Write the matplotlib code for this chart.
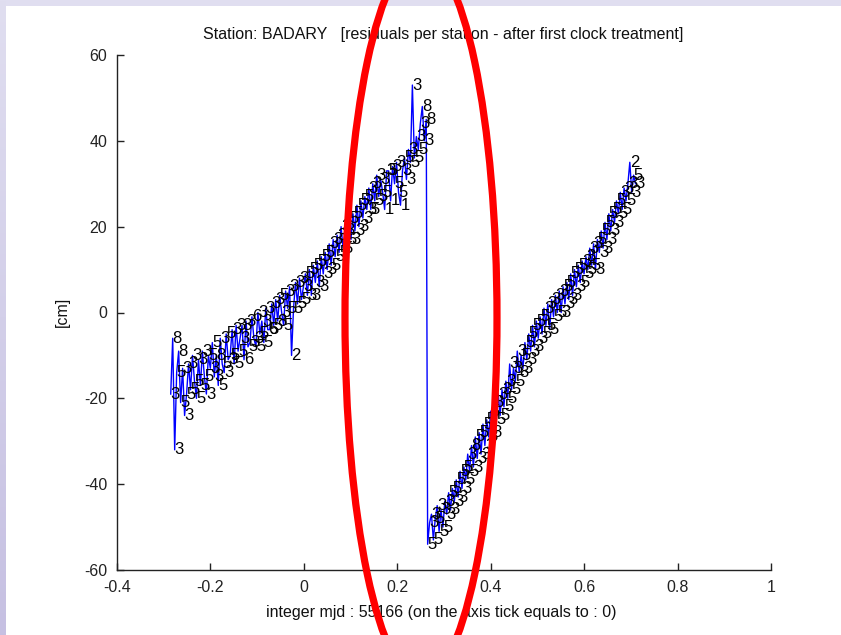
import numpy as np
import matplotlib.pyplot as plt
from matplotlib.colors import LinearSegmentedColormap
from matplotlib.patches import Ellipse, Rectangle

# Residuals per epoch (cm), two pieces split by the clock jump
EPOCH_START_1, EPOCH_END_1 = -0.285, 0.262
EPOCH_START_2, EPOCH_END_2 = 0.265, 0.710

resid_1 = [
    -19, -6, -32, -14, -9, -21, -13, -24, -19, -12,
    -18, -10, -16, -20, -11, -17, -9, -15, -19, -10,
    -13, -7, -15, -10, -17, -6, -12, -14, -5, -11,
    -10, -4, -12, -3, -9, -6, -3, -11, -2, -8,
    -7, -1, -6, -8, 0, -5, -2, -7, 1, -4,
    -4, 2, -3, 3, -2, 4, 0, -3, 5, 1,
    6, -10, 1, 7, 2, 8, 3, 6, 9, 4,
    10, 4, 11, 7, 12, 6, 13, 9, 14, 10,
    16, 11, 17, 13, 18, 14, 20, 15, 19, 17,
    22, 17, 23, 19, 25, 20, 26, 22, 27, 24,
    29, 24, 30, 26, 32, 27, 31, 28, 24, 33,
    33, 26, 34, 30, 35, 28, 25, 33, 36, 31,
    38, 35, 53, 36, 41, 38, 44, 48, 40, 45,
]
resid_2 = [
    -54, -49, -47, -53, -48, -45, -51, -46, -50, -44,
    -47, -42, -46, -41, -44, -39, -43, -37, -41, -36,
    -39, -33, -37, -31, -36, -29, -34, -28, -33, -26,
    -31, -25, -29, -23, -28, -21, -25, -19, -24, -18,
    -22, -16, -20, -12, -18, -13, -16, -9, -14, -10,
    -13, -7, -11, -5, -9, -3, -8, -2, -6, -1,
    -5, 1, -3, 2, -4, 3, -1, 4, 0, 5,
    0, 6, 2, 7, 3, 9, 4, 10, 6, 11,
    7, 12, 9, 13, 10, 15, 11, 16, 10, 17,
    14, 19, 15, 21, 17, 23, 19, 24, 21, 26,
    23, 28, 24, 29, 26, 30, 35, 28, 32, 30,
]
# digit printed at every epoch
labels_1 = ("3835853353" "5355353535" "3538535353" "5353538635" "3635353536"
            "5353853535" "3253535353" "5353535353" "3535353535" "5353535353"
            "3535353513" "5135351353" "3535353838")
labels_2 = ("5335535353" "3535353535" "5358353535" "3535835353" "5353535385"
            "3535353535" "5353535353" "3535353535" "5353535335" "3535353535"
            "5353532353")

x_ticks = [-0.4, -0.2, 0, 0.2, 0.4, 0.6, 0.8, 1]
x_ticklabels = ["-0.4", "-0.2", "0", "0.2", "0.4", "0.6", "0.8", "1"]
y_ticks = [-60, -40, -20, 0, 20, 40, 60]

TITLE = "Station: BADARY   [residuals per station - after first clock treatment]"
XLABEL = "integer mjd : 55166 (on the axis tick equals to : 0)"

plt.rcParams["font.family"] = ["Liberation Sans", "DejaVu Sans"]
plt.rcParams["axes.unicode_minus"] = False
W, H = 841, 635
fig = plt.figure(figsize=(W / 100, H / 100), dpi=100, facecolor="white")

# slide background strips (lavender)
top = fig.add_axes([0, 1 - 6 / H, 1, 6 / H])
top.axis("off")
top.add_patch(Rectangle((0, 0), 1, 1, color="#e0def0", transform=top.transAxes))
left = fig.add_axes([0, 0, 6 / W, 1])
left.axis("off")
grad = np.linspace(0, 1, 256).reshape(-1, 1)
lav = LinearSegmentedColormap.from_list("lav", ["#e0def0", "#c6c0e2"])
left.imshow(grad, aspect="auto", cmap=lav, extent=[0, 1, 0, 1])

ax = fig.add_axes([117 / W, 1 - 570 / H, (771 - 117) / W, (570 - 55) / H])

x1 = np.linspace(EPOCH_START_1, EPOCH_END_1, len(resid_1))
x2 = np.linspace(EPOCH_START_2, EPOCH_END_2, len(resid_2))
x = np.concatenate([x1, x2])
y = np.array(resid_1 + resid_2, dtype=float)
labs = labels_1 + labels_2

ax.plot(x, y, color="#0000ff", lw=1.0, zorder=2)
for xi, yi, s in zip(x, y, labs):
    ax.text(xi, yi, s, ha="left", va="center", fontsize=12, color="black", zorder=3)

ax.set_xlim(-0.4, 1)
ax.set_ylim(-60, 60)
ax.set_xticks(x_ticks)
ax.set_xticklabels(x_ticklabels)
ax.set_yticks(y_ticks)
ax.tick_params(direction="in", length=5, width=1, labelsize=11.5, pad=7, colors="#222222")
for side in ["top", "right"]:
    ax.spines[side].set_visible(False)
for side in ["left", "bottom"]:
    ax.spines[side].set_color("#222222")
    ax.spines[side].set_linewidth(1)

fig.text(443 / W, 1 - 35 / H, TITLE, ha="center", va="center", fontsize=11.5, color="#111111")
fig.text(441 / W, 1 - 612 / H, XLABEL, ha="center", va="center", fontsize=11.5, color="#111111")
fig.text(62 / W, 1 - 312 / H, "[cm]", ha="center", va="center", rotation=90, fontsize=11.5,
         color="#111111")

# red hand-drawn ellipse on top of everything
ell = Ellipse((421, H - 318), 152, 724, fill=False, edgecolor="#ff0000", lw=5.2,
              transform=None, zorder=10)
fig.patches.append(ell)

fig.savefig("out.png", dpi=100)
